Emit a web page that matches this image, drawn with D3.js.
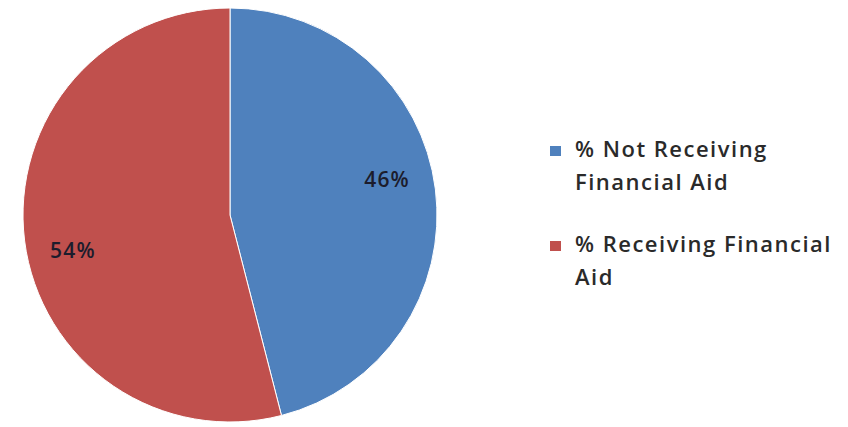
<!DOCTYPE html>
<html>
<head>
<meta charset="utf-8">
<script src="https://cdn.jsdelivr.net/npm/d3@7"></script>
<style>
  html, body { margin: 0; padding: 0; background: #fff; }
  svg text { font-family: "Open Sans", "DejaVu Sans", sans-serif; }
</style>
</head>
<body>
<svg id="chart" width="848" height="427"></svg>
<script>
// data
const categories = ["% Not Receiving Financial Aid", "% Receiving Financial Aid"];
const values = [46, 54];
const legendLines = [["% Not Receiving", "Financial Aid"], ["% Receiving Financial", "Aid"]];
const colors = ["#4f81bd", "#c0504d"];

const svg = d3.select("#chart");
const cx = 230, cy = 215, r = 207;

const pie = d3.pie().sort(null).value((d) => d.v);
const arcs = pie(values.map((v, i) => ({ v, name: categories[i], i })));
const arc = d3.arc().innerRadius(0).outerRadius(r);

const g = svg.append("g").attr("transform", `translate(${cx},${cy})`);
g.selectAll("path.slice").data(arcs).join("path").attr("class", "slice")
  .attr("d", arc).attr("fill", (d) => colors[d.data.i])
  .attr("stroke", "#fff").attr("stroke-width", 1);

// labels sit a little counter-clockwise of the slice middle, like Excel's best fit
const shift = -5.5 * Math.PI / 180, lr = 161;
g.selectAll("text.pct").data(arcs).join("text").attr("class", "pct")
  .attr("x", (d) => lr * Math.sin((d.startAngle + d.endAngle) / 2 + shift))
  .attr("y", (d) => -lr * Math.cos((d.startAngle + d.endAngle) / 2 + shift))
  .attr("text-anchor", "middle").attr("dy", "0.35em")
  .attr("fill", "#1c1c2c").style("font-size", "21px").style("font-weight", 600)
  .style("letter-spacing", "1.2px")
  .text((d) => d.data.v + "%");

// legend
const lg = svg.append("g").attr("transform", "translate(550,0)");
const rowY = [157, 252];
legendLines.forEach((lines, i) => {
  lg.append("rect").attr("x", 0).attr("y", rowY[i] - 11).attr("width", 11).attr("height", 10)
    .attr("fill", colors[i]);
  lines.forEach((t, j) => {
    lg.append("text").attr("x", 25).attr("y", rowY[i] + j * 33)
      .attr("fill", "#2a2a2a").style("font-size", "22px").style("font-weight", 600)
      .style("letter-spacing", "1.5px").text(t);
  });
});
</script>
</body>
</html>
